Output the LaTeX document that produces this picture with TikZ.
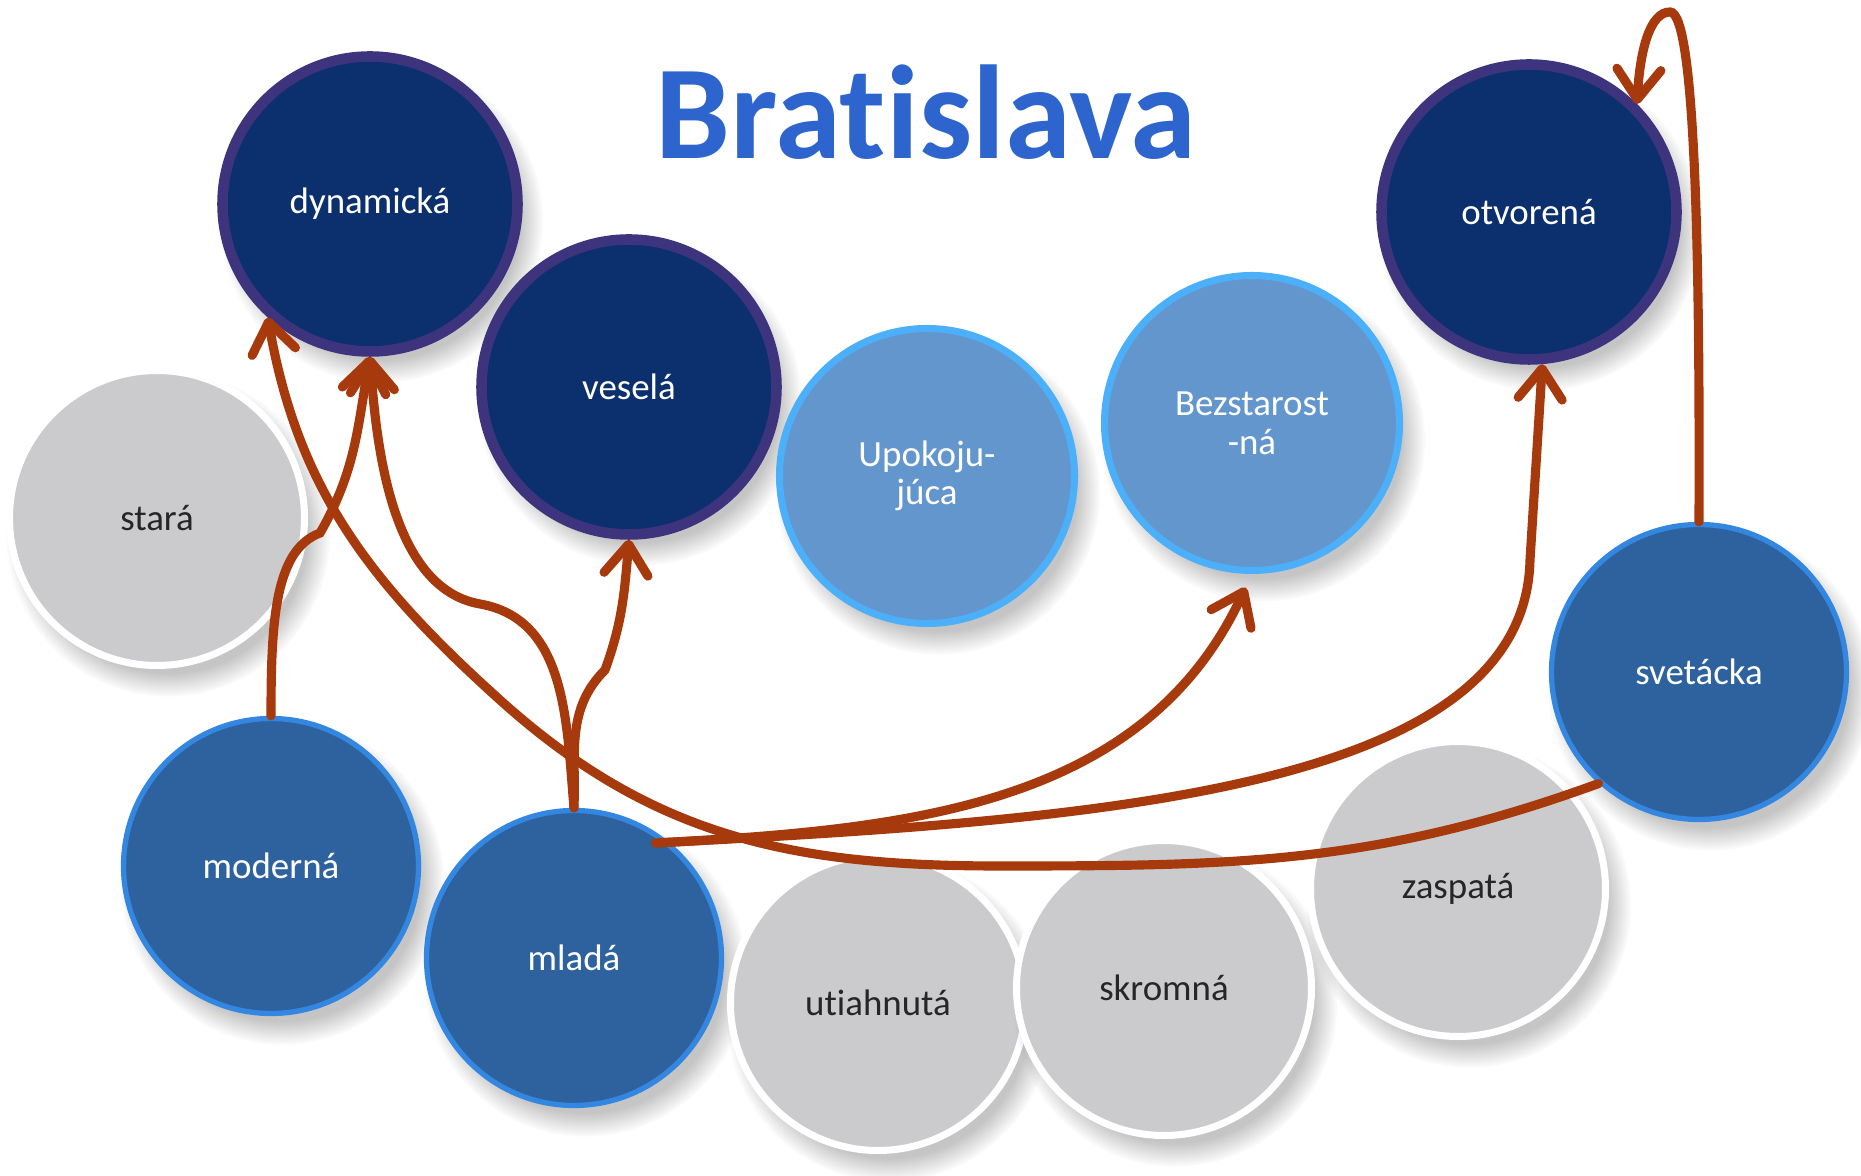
\documentclass[tikz,border=0pt]{standalone}
\usepackage{fontspec}
\setmainfont{Carlito}[Ligatures=NoCommon]
\usetikzlibrary{shapes, arrows.meta, positioning, shadows}

\definecolor{navyfill}{RGB}{12,48,110}
\definecolor{navyrim}{RGB}{62,52,125}
\definecolor{midfill}{RGB}{46,98,158}
\definecolor{midrim}{RGB}{52,135,225}
\definecolor{lightfill}{RGB}{100,150,206}
\definecolor{lightrim}{RGB}{75,175,250}
\definecolor{grayfill}{RGB}{203,203,205}
\definecolor{linkbrown}{RGB}{166,58,12}
\definecolor{titleblue}{RGB}{45,100,205}

\begin{document}
\begin{tikzpicture}
    \tikzstyle{ball}=[circle, minimum size=2.95cm, inner sep=0pt, align=center
    , font=\fontsize{10.5}{11}\selectfont
    , circular drop shadow={shadow xshift=1mm, shadow yshift=-1.5mm, opacity=0.45}]
    \tikzstyle{darkball}=[ball, fill=navyfill, draw=navyrim, line width=3pt, text=white]
    \tikzstyle{midball}=[ball, fill=midfill, draw=midrim, line width=1.5pt, text=white]
    \tikzstyle{lightball}=[ball, fill=lightfill, draw=lightrim, line width=2pt, text=white]
    \tikzstyle{grayball}=[ball, fill=grayfill, draw=white, line width=2pt, text=black!85]
    \tikzstyle{link}=[draw=linkbrown, line width=2.6pt, line cap=round
    , -{Straight Barb[length=3mm, width=4.4mm, round]}]

    \useasboundingbox[fill=white] (0,0) rectangle (18.61,-11.76);

    \node[font=\fontsize{38}{40}\selectfont\bfseries, text=titleblue] (title) at (9.26,-1.12) {Bratislava};

    % circles
    \node[darkball] (dyn) at (3.70,-2.04) {dynamická};
    \node[darkball] (vesela) at (6.29,-3.87) {veselá};
    \node[lightball] (upok) at (9.27,-4.76) {Upokoju-\\júca};
    \node[lightball] (bez) at (12.52,-4.23) {Bezstarost\\-ná};
    \node[darkball] (otv) at (15.29,-2.12) {otvorená};
    \node[grayball] (stara) at (1.57,-5.18) {stará};
    \node[midball] (svet) at (16.99,-6.72) {svetácka};
    \node[midball] (moderna) at (2.71,-8.66) {moderná};
    \node[midball] (mlada) at (5.74,-9.58) {mladá};
    \node[grayball] (utiah) at (8.78,-10.03) {utiahnutá};
    \node[grayball] (skrom) at (11.64,-9.88) {skromná};
    \node[grayball] (zaspat) at (14.58,-8.89) {zaspatá};

    % arrows
    \draw[link] (moderna.north) .. controls (2.71,-6.2) and (2.75,-5.5) .. (3.2,-5.33) to[out=60, in=-100] (dyn.south);
    \draw[link] (mlada.north) to[out=95, in=-10] (4.8,-6.04) to[out=170, in=-86, looseness=0.85] (dyn.south);
    \draw[link] (mlada.north) to[out=88, in=-135] (6.05,-6.70) to[out=70, in=-95] (vesela.south);
    \draw[link] (svet.228) to[out=200, in=0] (10,-8.66) to[out=180, in=-42] (5.0,-7.0) to[out=138, in=-80] (dyn.228);
    \draw[link, shorten >=1.5mm] ([xshift=-1.5mm]mlada.50) to[out=3, in=-115] (bez.south);
    \draw[link] ([xshift=-1.5mm]mlada.50) .. controls (11,-8.2) and (15.25,-7.9) .. (15.3,-5.6) -- (otv.-85);
    \draw[link] (svet.north) .. controls (17.0,-2.5) and (16.95,-0.12) .. (16.7,-0.12) .. controls (16.5,-0.12) and (16.4,-0.5) .. (otv.45);

\end{tikzpicture}
\end{document}
